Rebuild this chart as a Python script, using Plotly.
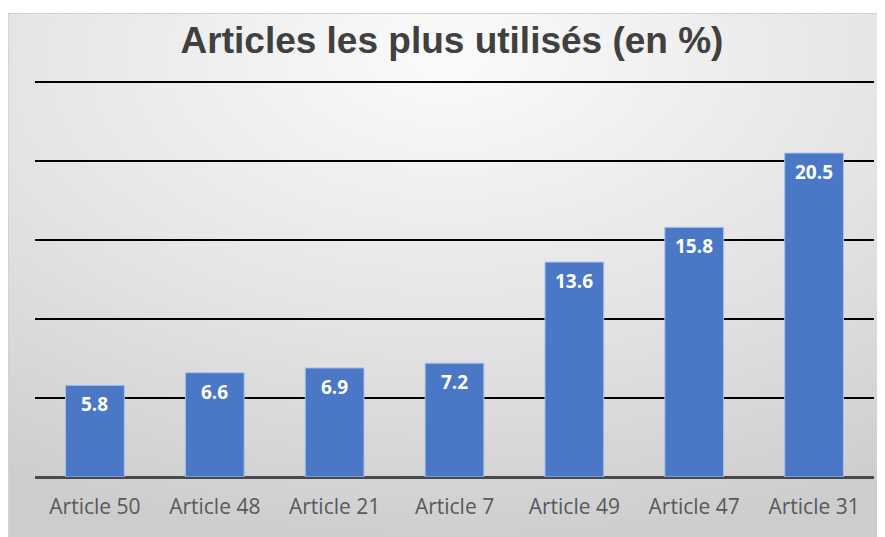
import base64

import plotly.graph_objs as go

articles = ["Article 50", "Article 48", "Article 21", "Article 7",
            "Article 49", "Article 47", "Article 31"]
percent = [5.8, 6.6, 6.9, 7.2, 13.6, 15.8, 20.5]

# page has an 8px body margin, so the figure is 8px smaller than the window
W, H = 877, 529
L, R, T, B = 27, 11, 70, 60

# grey radial background panel, as an svg image behind the plot
svg = (
    "<svg xmlns='http://www.w3.org/2000/svg' width='880' height='526'>"
    "<defs><radialGradient id='g' cx='50%' cy='8%' r='95%'>"
    "<stop offset='0' stop-color='#fbfbfb'/>"
    "<stop offset='0.55' stop-color='#e4e4e4'/>"
    "<stop offset='1' stop-color='#cdcdcd'/>"
    "</radialGradient></defs>"
    "<rect x='0.5' y='0.5' width='880' height='526' fill='url(#g)' stroke='#d2d2d2'/>"
    "</svg>"
)
bg = "data:image/svg+xml;base64," + base64.b64encode(svg.encode()).decode()
pw, ph = W - L - R, H - T - B

data = [
    go.Bar(
        x=articles,
        y=percent,
        marker=dict(color="#4A77C6", line=dict(color="#A9C0E6", width=1)),
        hoverinfo="x+y",
    )
]

labels = [
    dict(
        x=a, y=v, text=f"<b>{v}</b>", showarrow=False,
        yanchor="top", yshift=-4,
        font=dict(family="Open Sans, sans-serif", size=19, color="white"),
    )
    for a, v in zip(articles, percent)
]

layout = go.Layout(
    width=W,
    height=H,
    margin=dict(l=L, r=R, t=T, b=B),
    paper_bgcolor="white",
    plot_bgcolor="rgba(0,0,0,0)",
    title=dict(
        text="<b>Articles les plus utilisés (en %)</b>",
        x=(452 - 8) / W, xanchor="center", y=1 - 32 / H, yanchor="middle",
        font=dict(family="Liberation Sans, Arial, sans-serif", size=37, color="#404040"),
    ),
    xaxis=dict(
        showgrid=False,
        showline=False,
        ticks="outside",
        ticklen=11,
        tickcolor="rgba(0,0,0,0)",
        tickfont=dict(family="Open Sans, sans-serif", size=21, color="#595959"),
    ),
    yaxis=dict(
        range=[0, 25.25],
        dtick=5,
        showticklabels=False,
        showgrid=True,
        gridcolor="black",
        gridwidth=2,
        zeroline=True,
        zerolinecolor="#4a4a4a",
        zerolinewidth=3,
    ),
    bargap=0.51,
    annotations=labels,
    images=[
        dict(
            source=bg, xref="paper", yref="paper",
            x=(0 - L) / pw, y=1 + (T - 5) / ph,
            sizex=(W + 3) / pw, sizey=(H - 5) / ph,
            xanchor="left", yanchor="top", sizing="stretch", layer="below",
        )
    ],
    showlegend=False,
)

fig = go.Figure(data=data, layout=layout)
fig.write_html("out.html")
